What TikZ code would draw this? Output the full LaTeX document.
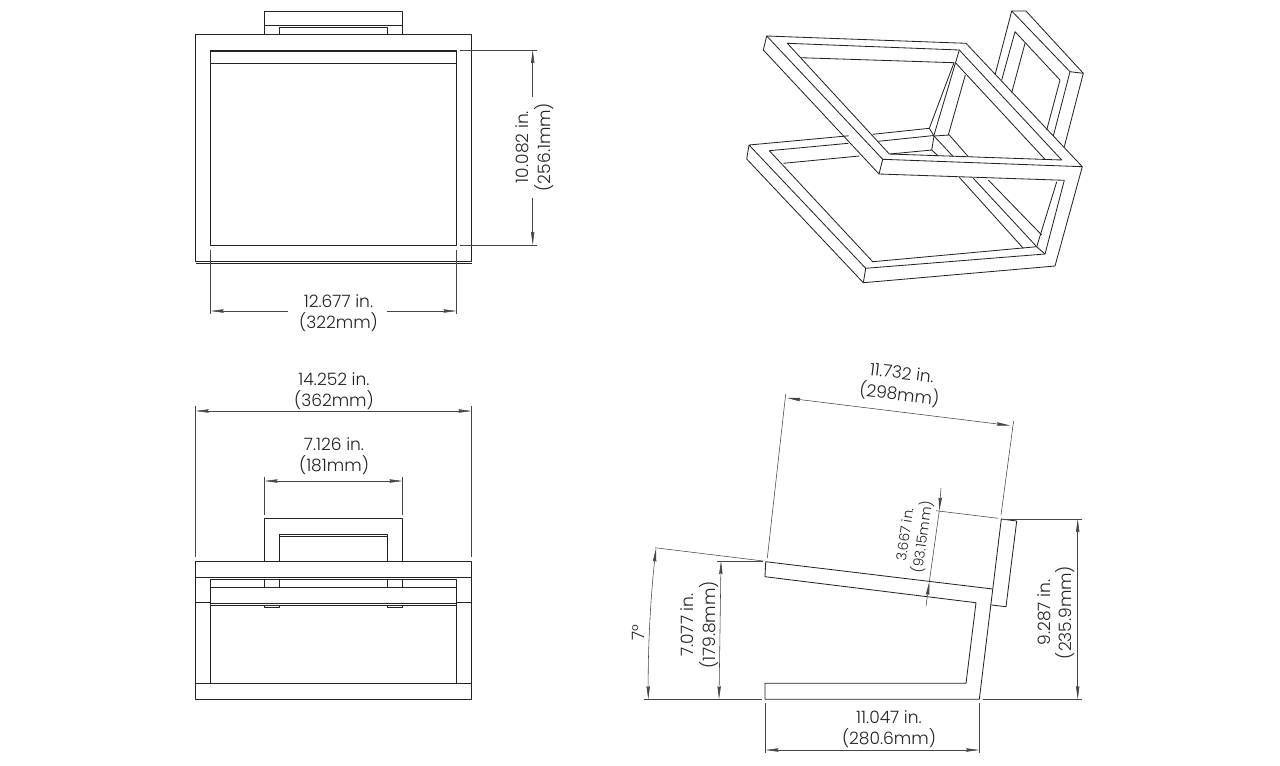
\documentclass[tikz,border=0pt]{standalone}
\usepackage{fontspec}
\setmainfont{Poppins}[UprightFont=* Light, Numbers=Monospaced]
\usetikzlibrary{arrows.meta}
\definecolor{dim-grey}{RGB}{ 70, 70, 70}
\definecolor{part-black}{RGB}{ 35, 35, 35}
\tikzset{
	dimtip/.tip={Stealth[length=10pt,width=2.6pt,inset=1pt]},
	part/.style={draw=part-black, line width=.62pt, line join=round},
	extline/.style={draw=dim-grey, line width=.42pt},
	dimboth/.style={extline, dimtip-dimtip},
	dimstart/.style={extline, dimtip-},
	dimlabel/.style={inner sep=0pt, align=center, text=part-black, font=\fontsize{12.8}{16.2}\selectfont},
	dimsmall/.style={inner sep=0pt, align=center, text=part-black, font=\fontsize{10.4}{13.2}\selectfont},
}
\begin{document}
\begin{tikzpicture}[x=.75pt, y=-.75pt]
\useasboundingbox (0,0) rectangle (1280,765);

% top view
\draw[part] (195.5,34.3) rectangle (471.7,261);
\draw[part] (195.5,263) -- (471.7,263);
\draw[part] (210.4,50) rectangle (456.7,245);
\draw[part] (210.4,51.5) -- (456.7,51.5);
\draw[part] (210.4,63.3) -- (456.7,63.3);
\draw[part] (264.3,34.3) -- (264.3,11) -- (402.7,11) -- (402.7,34.3);
\draw[part] (264.3,25) -- (402.7,25);
\draw[part] (279.7,34.3) -- (279.7,27.3) -- (387.3,27.3) -- (387.3,34.3);

\coordinate (hgtA) at (532.7,50);
\coordinate (hgtB) at (532.7,245);
\coordinate (hgtGapA) at (532.7,97);
\coordinate (hgtGapB) at (532.7,198);
\draw[extline] (460,50) -- (536.7,50);
\draw[extline] (460,245) -- (536.7,245);
\draw[dimstart] (hgtA) -- (hgtGapA);
\draw[dimstart] (hgtB) -- (hgtGapB);
\node[dimlabel, rotate=90] (hgtlabel) at (534.5,147) {10.082 in.\\(256.1mm)};

\coordinate (wdtA) at (210.4,311);
\coordinate (wdtB) at (456.7,311);
\coordinate (wdtGapA) at (288,311);
\coordinate (wdtGapB) at (387,311);
\draw[extline] (210.4,250) -- (210.4,314);
\draw[extline] (456.7,250) -- (456.7,314);
\draw[dimstart] (wdtA) -- (wdtGapA);
\draw[dimstart] (wdtB) -- (wdtGapB);
\node[dimlabel] (wdtlabel) at (338.5,313) {12.677 in.\\(322mm)};

% front view
\draw[part] (195.5,561.7) rectangle (471.7,699);
\draw[part] (195.5,577.4) -- (471.7,577.4);
\draw[part] (195.5,683.3) -- (471.7,683.3);
\draw[part] (195.5,602.7) -- (210.4,602.7);
\draw[part] (456.7,602.7) -- (471.7,602.7);
\draw[part] (210.4,683.3) -- (210.4,579) -- (456.7,579) -- (456.7,683.3);
\draw[part] (210.4,587.7) -- (456.7,587.7);
\draw[part] (210.4,603) -- (456.7,603);
\draw[part] (210.4,605) -- (456.7,605);
\draw[part] (264.3,561.7) -- (264.3,518.7) -- (402.7,518.7) -- (402.7,561.7);
\draw[part] (279.7,561.7) -- (279.7,534) -- (387.3,534) -- (387.3,561.7);
\draw[part] (279.7,536) -- (387.3,536);
\foreach \xa/\xb in {264.3/279.7, 387.3/402.7} {
	\draw[part] (\xa,579) -- (\xa,587.7);
	\draw[part] (\xb,579) -- (\xb,587.7);
	\draw[part] (\xa,605) -- (\xa,607) -- (\xb,607) -- (\xb,605);
}

\coordinate (outA) at (195.5,411);
\coordinate (outB) at (471.7,411);
\draw[extline] (195.5,406) -- (195.5,557);
\draw[extline] (471.7,406) -- (471.7,557);
\draw[dimboth] (outA) -- (outB);
\node[dimlabel] (outlabel) at (334,391) {14.252 in.\\(362mm)};

\coordinate (hdlA) at (264.3,481);
\coordinate (hdlB) at (402.7,481);
\draw[extline] (264.3,477) -- (264.3,515);
\draw[extline] (402.7,477) -- (402.7,515);
\draw[dimboth] (hdlA) -- (hdlB);
\node[dimlabel] (hdllabel) at (334,456) {7.126 in.\\(181mm)};

% isometric view: back plate first, then lower frame, then seat
\draw[part] (995,75) -- (1011.7,11) -- (1026,11) -- (1083.3,73.3) -- (1064.3,146.7);
\draw[part] (1011.7,11) -- (1070,71.7) -- (1083.3,73.3);
\draw[part] (1070,71.7) -- (1053.3,136);
\draw[part] (1001.7,80) -- (1015,31.7) -- (1060,80) -- (1046.7,130);
\draw[part] (1025,43.3) -- (1011.7,92.7);

\draw[part] (872.7,134.3) -- (929.3,128.3) -- (934,136) -- (949.3,135) -- (968.3,156.7);
\draw[part] (878.3,141.3) -- (934,135.5);
\draw[part] (934,136) -- (931.7,150) -- (890,154);
\draw[part] (934,136) -- (953.3,156.7);
\draw[part] (931.7,150) -- (938.3,156);

\draw[part] (848.5,135.8) -- (749,145) -- (746.7,159) -- (863.3,282.7) -- (865.7,268.3) -- (749,145);
\draw[part] (848.3,143.3) -- (769.3,150.7) -- (872.7,261.7) -- (1036.7,246.7) -- (1056.7,181.7);
\draw[part] (783.3,163.3) -- (859.3,156);
\draw[part] (865.7,268.3) -- (1045,254) -- (1064.3,180.3);
\draw[part] (863.3,282.7) -- (1055,266) -- (1082.3,166.7);
\draw[part] (1036.7,246.7) -- (1045,254);
\draw[part] (959.3,177.3) -- (1023.3,248.3);
\draw[part] (973.3,178.3) -- (1036.7,246.7);
\draw[part] (988.3,180) -- (1041.7,235);

\draw[part] (766.7,36) -- (966,43.3) -- (1082.3,166.7) -- (882.7,159.3) -- cycle;
\draw[part] (766.7,36) -- (763.3,50) -- (879,174) -- (882.7,159.3);
\draw[part] (879,174) -- (1064.3,180.3);
\draw[part] (787.3,43.3) -- (959.3,50) -- (1061.7,160) -- (889.3,154) -- cycle;
\draw[part] (800.7,57.7) -- (954,62.7) -- (929.3,128.3);
\draw[part] (959.3,50) -- (934,135);
\draw[part] (965.3,75) -- (948.3,135);
\draw[part] (956,63.3) -- (1045,159.3);

% side view
\draw[part] (765.7,561.7) -- (992.7,589);
\draw[part] (765.7,561.7) -- (765,576.7) -- (976,602.7) -- (966,683.3) -- (765,683.3) -- (765,699.3) -- (979.3,699.3) -- (1001.3,519) -- (1016.7,521) -- (1006,606.7) -- (991.7,605);

\coordinate (seatA) at (721,561);
\coordinate (seatB) at (719,699.3);
\draw[extline] (717.3,561) -- (763.3,561);
\draw[extline] (644,699.3) -- (761.7,699.3);
\draw[extline] (655,547.7) -- (763.3,561);
\draw[dimboth] (seatA) -- (seatB);
\node[dimlabel, rotate=90] (seatlabel) at (699.5,625) {7.077 in.\\(179.8mm)};

\coordinate (angA) at (656,548.3);
\coordinate (angB) at (648.3,699.3);
\draw[dimboth] (angA) .. controls (650.4,598.6) and (647.9,649) .. (angB);
\node[dimlabel, rotate=90] (anglabel) at (638,633) {7°};

\coordinate (baseA) at (765.3,750);
\coordinate (baseB) at (979.3,750);
\draw[extline] (765.3,703) -- (765.3,753);
\draw[extline] (979.3,703) -- (979.3,753);
\draw[dimboth] (baseA) -- (baseB);
\node[dimlabel] (baselabel) at (889,729) {11.047 in.\\(280.6mm)};

\coordinate (backA) at (1077.7,519);
\coordinate (backB) at (1077.7,699.3);
\draw[extline] (1003,519) -- (1081.7,519);
\draw[extline] (982.7,699.3) -- (1081.7,699.3);
\draw[dimboth] (backA) -- (backB);
\node[dimlabel, rotate=90] (backlabel) at (1056,612.5) {9.287 in.\\(235.9mm)};

\coordinate (lenA) at (787,398);
\coordinate (lenB) at (1010,425.5);
\draw[extline] (767.3,558) -- (785.7,394);
\draw[extline] (1001,515) -- (1013.6,421);
\draw[dimboth] (lenA) -- (lenB);
\node[dimlabel, rotate=-7] (lenlabel) at (900.5,385) {11.732 in.\\(298mm)};

\coordinate (plateA) at (939.3,510.7);
\coordinate (plateB) at (929.3,581.7);
\coordinate (plateEndA) at (941,488);
\coordinate (plateEndB) at (926,606);
\draw[extline] (936,510.7) -- (998.3,518.3);
\draw[dimstart] (plateA) -- (plateEndA);
\draw[dimstart] (plateB) -- (plateEndB);
\draw[extline] (plateA) -- (plateB);
\node[dimsmall, rotate=82] (platelabel) at (914.5,536) {3.667 in.\\(93.15mm)};
\end{tikzpicture}
\end{document}
